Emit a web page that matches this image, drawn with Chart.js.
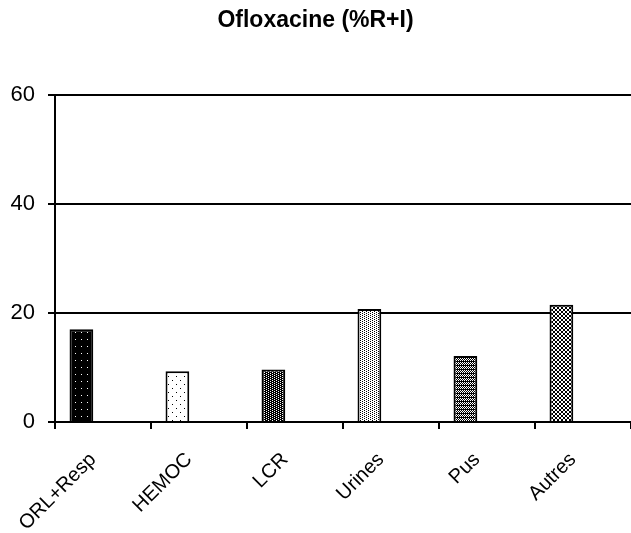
<!DOCTYPE html>
<html>
<head>
<meta charset="utf-8">
<script src="https://cdn.jsdelivr.net/npm/chart.js@4"></script>
<style>
  html, body { margin: 0; padding: 0; background: #fff; }
  #wrap { width: 631px; height: 533px; }
</style>
</head>
<body>
<div id="wrap"><canvas id="chartCanvas"></canvas></div>
<script>
const categories = ["ORL+Resp", "HEMOC", "LCR", "Urines", "Pus", "Autres"];
const resistance = [17, 9.3, 9.6, 20.7, 12.1, 21.5];
const emptySeries = [null, null, null, null, null, null];
const yTicks = [0, 20, 40, 60];

// small pixel patterns, "1" = ink pixel on paper
const patternMasks = [
    { bg: "#000", ink: "#fff", rows: ["000000", "000000", "000000", "000100", "000000", "000000", "000000"] },
    { bg: "#fff", ink: "#000", rows: ["10000000", "00000000", "00000000", "00000000", "00001000", "00000000", "00000000", "00000000"] },
    { bg: "#000", ink: "#fff", rows: ["1000", "0010"] },
    { bg: "#fff", ink: "#000", rows: ["1000", "0010"] },
    { bg: "#000", ink: "#fff", rows: ["1010", "0000", "1010", "0101"] },
    { bg: "#fff", ink: "#000", rows: ["0110", "1001", "1001", "0110"] }
];

function makePattern(mask) {
    const c = document.createElement("canvas");
    c.width = mask.rows[0].length;
    c.height = mask.rows.length;
    const g = c.getContext("2d");
    g.fillStyle = mask.bg;
    g.fillRect(0, 0, c.width, c.height);
    g.fillStyle = mask.ink;
    mask.rows.forEach((row, y) => {
        for (let x = 0; x < row.length; x++) {
            if (row[x] === "1") g.fillRect(x, y, 1, 1);
        }
    });
    return g.createPattern(c, "repeat");
}

const ctx = document.getElementById("chartCanvas").getContext("2d");
const fills = patternMasks.map(makePattern);

new Chart(ctx, {
    type: "bar",
    data: {
        labels: categories,
        datasets: [{
            label: "Ofloxacine (%R+I)",
            data: resistance,
            backgroundColor: fills,
            borderColor: "#000",
            borderWidth: 2,
            borderSkipped: "bottom",
            barPercentage: 0.55,
            categoryPercentage: 0.9
        }, {
            label: "",
            data: emptySeries,
            barPercentage: 0.55,
            categoryPercentage: 0.9
        }]
    },
    options: {
        responsive: true,
        maintainAspectRatio: false,
        animation: false,
        layout: { padding: 0 },
        plugins: {
            legend: { display: false },
            tooltip: { enabled: false },
            title: {
                display: true,
                text: "Ofloxacine (%R+I)",
                color: "#000",
                font: { family: "Liberation Sans, Arial, sans-serif", size: 23, weight: "bold" },
                padding: { top: 7, bottom: 60 }
            }
        },
        scales: {
            x: {
                grid: { offset: true, drawOnChartArea: false, drawTicks: true, tickLength: 7, color: "#000", lineWidth: 2 },
                border: { color: "#000", width: 2 },
                ticks: {
                    color: "#000",
                    maxRotation: 45,
                    minRotation: 45,
                    padding: 19,
                    labelOffset: -10,
                    font: { family: "Liberation Sans, Arial, sans-serif", size: 20 }
                },
                afterFit: scale => {
                    scale.height = 111;
                    scale.paddingLeft = 0;
                    scale.paddingRight = 0;
                }
            },
            y: {
                min: 0,
                max: 60,
                afterBuildTicks: axis => { axis.ticks = yTicks.map(v => ({ value: v })); },
                grid: { color: "#000", lineWidth: 2, tickLength: 7 },
                border: { color: "#000", width: 2 },
                ticks: {
                    color: "#000",
                    padding: 13,
                    font: { family: "Liberation Sans, Arial, sans-serif", size: 22 }
                },
                afterFit: scale => { scale.width = 55; }
            }
        }
    }
});
</script>
</body>
</html>
